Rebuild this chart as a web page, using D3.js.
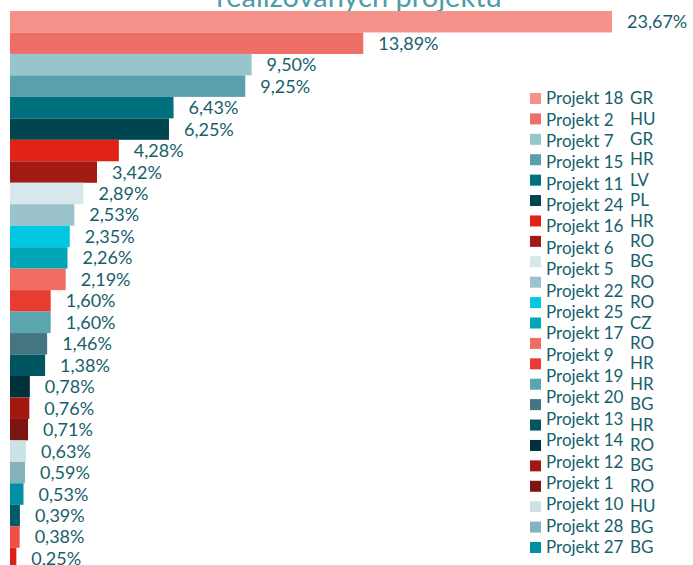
<!DOCTYPE html>
<html>
<head>
<meta charset="utf-8">
<script src="https://cdn.jsdelivr.net/npm/d3@7"></script>
<style>
  body { margin: 0; background: #fff; }
  svg { display: block; font-family: Lato, "Open Sans", sans-serif; }
</style>
</head>
<body>
<div id="chart"></div>
<script>
// share of each project, sorted as in the bars (top to bottom)
const values = [23.67, 13.89, 9.50, 9.25, 6.43, 6.25, 4.28, 3.42, 2.89, 2.53, 2.35, 2.26, 2.19,
  1.60, 1.60, 1.46, 1.38, 0.78, 0.76, 0.71, 0.63, 0.59, 0.53, 0.39, 0.38, 0.25];

// legend texts as they appear in the picture
const projects = ["Projekt 18", "Projekt 2", "Projekt 7", "Projekt 15", "Projekt 11", "Projekt 24",
  "Projekt 16", "Projekt 6", "Projekt 5", "Projekt 22", "Projekt 25", "Projekt 17", "Projekt 9",
  "Projekt 19", "Projekt 20", "Projekt 13", "Projekt 14", "Projekt 12", "Projekt 1", "Projekt 10",
  "Projekt 28", "Projekt 27"];
const countries = ["GR", "HU", "GR", "HR", "LV", "PL", "HR", "RO", "BG", "RO", "RO", "CZ", "RO",
  "HR", "HR", "BG", "HR", "RO", "BG", "RO", "HU", "BG", "BG"];

const title = "realizovaných projektů";

// bar colours, one per bar
const palette = ["#f4928a", "#ee6f65", "#97c5cc", "#5a9fad", "#00707f", "#00454f", "#e02316",
  "#a11a14", "#d6e8ec", "#9ac3cd", "#00c8e3", "#00a5b8", "#f36c64", "#e83c33", "#5aa5ae",
  "#45757f", "#005560", "#00303a", "#a0180f", "#7a1511", "#cce3e6", "#84b3bd", "#008fa3",
  "#005c68", "#f04e45", "#d82418"];

const width = 693, height = 565;
const textColor = "#17606b";

const svg = d3.select("#chart").append("svg")
  .attr("width", width)
  .attr("height", height);

// title, mostly cut off by the top edge
svg.append("text")
  .attr("x", 359)
  .attr("y", 7)
  .attr("text-anchor", "middle")
  .attr("font-size", 29)
  .attr("fill", "#4e9ca7")
  .text(title);

const x = d3.scaleLinear()
  .domain([0, d3.max(values)])
  .range([10, 612]);

const y = d3.scaleBand()
  .domain(d3.range(values.length))
  .range([11, 11 + values.length * 21.47])
  .padding(0);

svg.append("g")
  .selectAll("rect")
  .data(values)
  .join("rect")
  .attr("x", x(0))
  .attr("y", (d, i) => y(i))
  .attr("width", d => x(d) - x(0))
  .attr("height", y.bandwidth())
  .attr("fill", (d, i) => palette[i]);

svg.append("g")
  .selectAll("text")
  .data(values)
  .join("text")
  .attr("x", d => x(d) + 15)
  .attr("y", (d, i) => y(i) + y.bandwidth() / 2)
  .attr("dy", "0.36em")
  .attr("font-size", 18)
  .attr("fill", textColor)
  .text(d => d.toFixed(2).replace(".", ",") + "%");

// legend: swatches and country codes share one spacing, project names another
const legend = svg.append("g");
const swatchY = d3.scaleLinear().domain([0, countries.length - 1]).range([93, 542]);
const nameY = d3.scaleLinear().domain([0, projects.length - 1]).range([98, 547]);

legend.selectAll("rect")
  .data(countries)
  .join("rect")
  .attr("x", 530)
  .attr("y", (d, i) => swatchY(i))
  .attr("width", 11)
  .attr("height", 11)
  .attr("fill", (d, i) => palette[i]);

legend.selectAll("text.name")
  .data(projects)
  .join("text")
  .attr("class", "name")
  .attr("x", 546)
  .attr("y", (d, i) => nameY(i))
  .attr("dy", "0.36em")
  .attr("font-size", 17)
  .attr("fill", textColor)
  .text(d => d);

legend.selectAll("text.code")
  .data(countries)
  .join("text")
  .attr("class", "code")
  .attr("x", 630)
  .attr("y", (d, i) => swatchY(i) + 5)
  .attr("dy", "0.36em")
  .attr("font-size", 17)
  .attr("fill", textColor)
  .text(d => d);
</script>
</body>
</html>
